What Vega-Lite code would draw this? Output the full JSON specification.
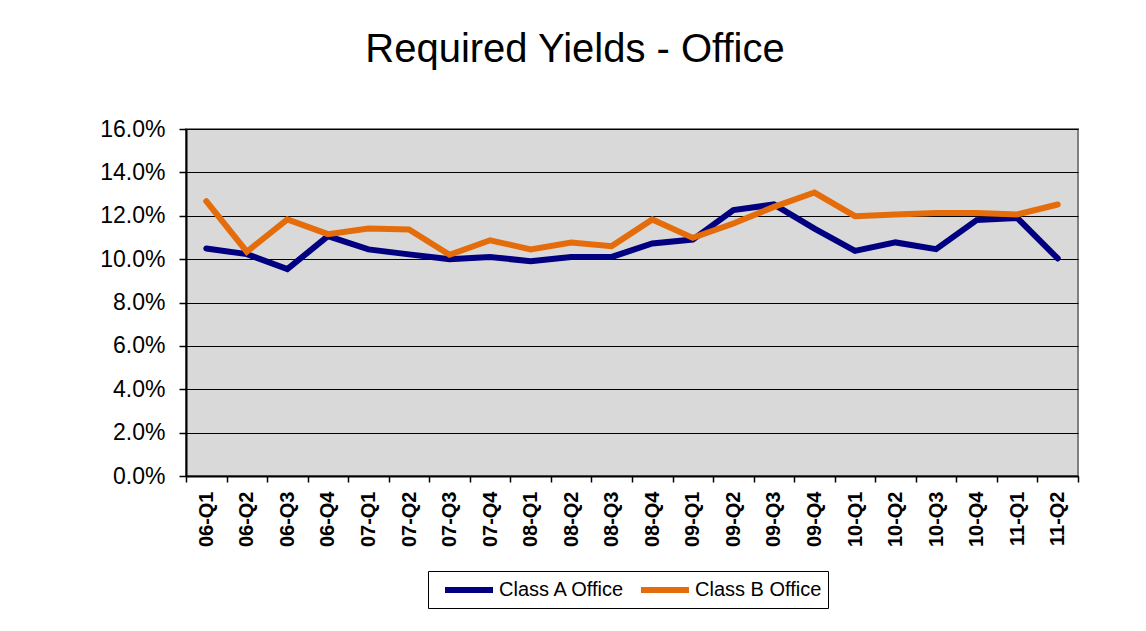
{
  "$schema": "https://vega.github.io/schema/vega-lite/v6.json",
  "autosize": {"type": "none"},
  "padding": {"left": 186, "top": 129, "right": 68, "bottom": 155},
  "width": 892,
  "height": 347,
  "background": "white",
  "title": {
    "text": "Required Yields - Office",
    "fontSize": 40,
    "font": "Liberation Sans",
    "fontWeight": "normal",
    "color": "black",
    "anchor": "middle",
    "frame": "group",
    "dx": -57,
    "offset": 48
  },
  "data": {
    "values": [
      {"quarter": "06-Q1", "series": "Class A Office", "value": 0.1049},
      {"quarter": "06-Q2", "series": "Class A Office", "value": 0.1023},
      {"quarter": "06-Q3", "series": "Class A Office", "value": 0.0954},
      {"quarter": "06-Q4", "series": "Class A Office", "value": 0.1106},
      {"quarter": "07-Q1", "series": "Class A Office", "value": 0.1045},
      {"quarter": "07-Q2", "series": "Class A Office", "value": 0.1022},
      {"quarter": "07-Q3", "series": "Class A Office", "value": 0.1000},
      {"quarter": "07-Q4", "series": "Class A Office", "value": 0.1010},
      {"quarter": "08-Q1", "series": "Class A Office", "value": 0.0990},
      {"quarter": "08-Q2", "series": "Class A Office", "value": 0.1010},
      {"quarter": "08-Q3", "series": "Class A Office", "value": 0.1010},
      {"quarter": "08-Q4", "series": "Class A Office", "value": 0.1072},
      {"quarter": "09-Q1", "series": "Class A Office", "value": 0.1090},
      {"quarter": "09-Q2", "series": "Class A Office", "value": 0.1226},
      {"quarter": "09-Q3", "series": "Class A Office", "value": 0.1252},
      {"quarter": "09-Q4", "series": "Class A Office", "value": 0.1141},
      {"quarter": "10-Q1", "series": "Class A Office", "value": 0.1038},
      {"quarter": "10-Q2", "series": "Class A Office", "value": 0.1077},
      {"quarter": "10-Q3", "series": "Class A Office", "value": 0.1046},
      {"quarter": "10-Q4", "series": "Class A Office", "value": 0.1180},
      {"quarter": "11-Q1", "series": "Class A Office", "value": 0.1190},
      {"quarter": "11-Q2", "series": "Class A Office", "value": 0.1003},
      {"quarter": "06-Q1", "series": "Class B Office", "value": 0.1267},
      {"quarter": "06-Q2", "series": "Class B Office", "value": 0.1034},
      {"quarter": "06-Q3", "series": "Class B Office", "value": 0.1183},
      {"quarter": "06-Q4", "series": "Class B Office", "value": 0.1115},
      {"quarter": "07-Q1", "series": "Class B Office", "value": 0.1141},
      {"quarter": "07-Q2", "series": "Class B Office", "value": 0.1137},
      {"quarter": "07-Q3", "series": "Class B Office", "value": 0.1020},
      {"quarter": "07-Q4", "series": "Class B Office", "value": 0.1087},
      {"quarter": "08-Q1", "series": "Class B Office", "value": 0.1045},
      {"quarter": "08-Q2", "series": "Class B Office", "value": 0.1077},
      {"quarter": "08-Q3", "series": "Class B Office", "value": 0.1060},
      {"quarter": "08-Q4", "series": "Class B Office", "value": 0.1183},
      {"quarter": "09-Q1", "series": "Class B Office", "value": 0.1098},
      {"quarter": "09-Q2", "series": "Class B Office", "value": 0.1164},
      {"quarter": "09-Q3", "series": "Class B Office", "value": 0.1241},
      {"quarter": "09-Q4", "series": "Class B Office", "value": 0.1307},
      {"quarter": "10-Q1", "series": "Class B Office", "value": 0.1198},
      {"quarter": "10-Q2", "series": "Class B Office", "value": 0.1206},
      {"quarter": "10-Q3", "series": "Class B Office", "value": 0.1213},
      {"quarter": "10-Q4", "series": "Class B Office", "value": 0.1213},
      {"quarter": "11-Q1", "series": "Class B Office", "value": 0.1206},
      {"quarter": "11-Q2", "series": "Class B Office", "value": 0.1252}
    ]
  },
  "mark": {"type": "line", "strokeWidth": 6, "strokeJoin": "miter", "strokeCap": "round"},
  "encoding": {
    "x": {
      "field": "quarter",
      "type": "ordinal",
      "scale": {"type": "band", "paddingInner": 0, "paddingOuter": 0},
      "axis": {
        "title": null,
        "labelAngle": -90,
        "labelAlign": "right",
        "labelBaseline": "middle",
        "labelFontSize": 20,
        "labelFontWeight": "bold",
        "labelFont": "Liberation Sans",
        "labelColor": "black",
        "labelPadding": 9,
        "tickBand": "extent",
        "tickSize": 6,
        "tickColor": "black",
        "tickWidth": 1.5,
        "domainColor": "black",
        "domainWidth": 2,
        "grid": false
      }
    },
    "y": {
      "field": "value",
      "type": "quantitative",
      "scale": {"domain": [0, 0.16], "nice": false},
      "axis": {
        "title": null,
        "format": ".1%",
        "values": [0, 0.02, 0.04, 0.06, 0.08, 0.10, 0.12, 0.14, 0.16],
        "labelFontSize": 23,
        "labelFont": "Liberation Sans",
        "labelColor": "black",
        "labelPadding": 14,
        "tickSize": 7,
        "tickColor": "black",
        "tickWidth": 1.5,
        "domainColor": "black",
        "domainWidth": 2,
        "grid": true,
        "gridColor": "black",
        "gridWidth": 1.2
      }
    },
    "color": {
      "field": "series",
      "type": "nominal",
      "scale": {"domain": ["Class A Office", "Class B Office"], "range": ["#000080", "#E46C0A"]},
      "legend": {
        "title": null,
        "orient": "none",
        "legendX": 242,
        "legendY": 442,
        "direction": "horizontal",
        "symbolType": "M-2.4,0H2.4",
        "symbolStrokeWidth": 6,
        "symbolSize": 400,
        "symbolOffset": 22,
        "labelFontSize": 20,
        "labelFont": "Liberation Sans",
        "labelColor": "black",
        "labelOffset": 17,
        "columnPadding": 3,
        "padding": 6,
        "strokeColor": "black",
        "fillColor": "white"
      }
    }
  },
  "config": {
    "view": {"fill": "#D9D9D9", "stroke": "#808080", "strokeWidth": 2}
  }
}
